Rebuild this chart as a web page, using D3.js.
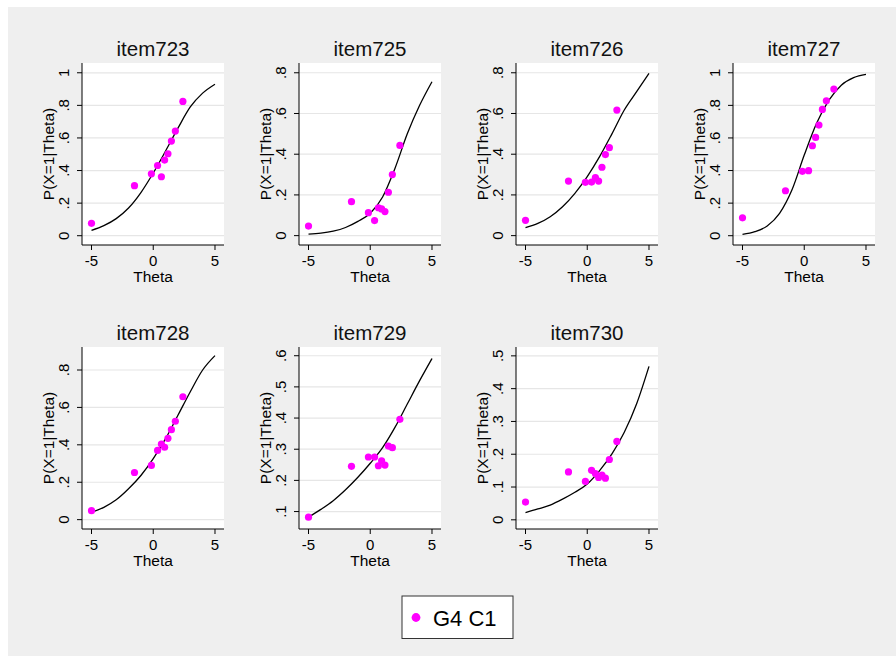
<!DOCTYPE html>
<html lang="en">
<head>
  <meta charset="UTF-8">
  <title>Item characteristic curves</title>
  <script src="https://d3js.org/d3.v7.min.js"></script>
  <style>
    body { margin: 0; background: #fff; }
    svg { display: block; font-family: "Liberation Sans", Arial, sans-serif; }
    .grid { stroke: #e6e6e6; stroke-width: 1.2px; }
    .axis-line { stroke: #000; stroke-width: 1px; }
    .tick-mark { stroke: #000; stroke-width: 1px; }
    .tick-label { font-size: 15px; fill: #000; }
    .axis-title { font-size: 15.5px; fill: #000; }
    .panel-title { font-size: 20.5px; fill: #111; }
    .fit { fill: none; stroke: #000; stroke-width: 1.3px; }
    .obs { fill: #ff00ff; }
  </style>
</head>
<body>

<svg width="896" height="656"></svg>

<script>
  // Chart data
  const items = ["item723", "item725", "item726", "item727", "item728", "item729", "item730"];

  // theta values of the observed points (same in every panel)
  const thetaObs = [-5, -1.52, -0.15, 0.35, 0.66, 0.92, 1.19, 1.47, 1.79, 2.4];
  // theta grid for the fitted curves
  const thetaFit = [-5, -4, -3, -2, -1, 0, 1, 2, 3, 4, 5];

  const obs723 = [0.076, 0.307, 0.380, 0.431, 0.362, 0.464, 0.503, 0.581, 0.642, 0.824];
  const obs725 = [0.047, 0.167, 0.113, 0.074, 0.137, 0.131, 0.118, 0.213, 0.300, 0.443];
  const obs726 = [0.075, 0.268, 0.262, 0.263, 0.285, 0.268, 0.336, 0.398, 0.432, 0.617];
  const obs727 = [0.110, 0.276, 0.395, 0.399, 0.552, 0.603, 0.679, 0.775, 0.828, 0.900];
  const obs728 = [0.048, 0.252, 0.290, 0.370, 0.404, 0.387, 0.435, 0.481, 0.526, 0.657];
  const obs729 = [0.082, 0.245, 0.275, 0.275, 0.247, 0.263, 0.249, 0.310, 0.305, 0.396];
  const obs730 = [0.054, 0.146, 0.117, 0.151, 0.141, 0.129, 0.136, 0.127, 0.184, 0.239];

  const fit723 = [0.033, 0.062, 0.105, 0.170, 0.265, 0.385, 0.520, 0.660, 0.790, 0.875, 0.930];
  const fit725 = [0.007, 0.012, 0.022, 0.040, 0.070, 0.110, 0.190, 0.330, 0.500, 0.640, 0.756];
  const fit726 = [0.039, 0.060, 0.093, 0.142, 0.208, 0.290, 0.388, 0.500, 0.617, 0.707, 0.797];
  const fit727 = [0.008, 0.025, 0.060, 0.137, 0.280, 0.495, 0.690, 0.832, 0.924, 0.970, 0.990];
  const fit728 = [0.039, 0.066, 0.106, 0.165, 0.236, 0.326, 0.433, 0.558, 0.684, 0.800, 0.877];
  const fit729 = [0.082, 0.107, 0.135, 0.170, 0.210, 0.255, 0.305, 0.370, 0.445, 0.520, 0.591];
  const fit730 = [0.022, 0.033, 0.045, 0.063, 0.084, 0.109, 0.150, 0.201, 0.267, 0.354, 0.468];

  const obsSeries = [obs723, obs725, obs726, obs727, obs728, obs729, obs730];
  const fitSeries = [fit723, fit725, fit726, fit727, fit728, fit729, fit730];

  // y axis ticks and visible range per panel
  const yTicks = [
    [0, 0.2, 0.4, 0.6, 0.8, 1],
    [0, 0.2, 0.4, 0.6, 0.8],
    [0, 0.2, 0.4, 0.6, 0.8],
    [0, 0.2, 0.4, 0.6, 0.8, 1],
    [0, 0.2, 0.4, 0.6, 0.8],
    [0.1, 0.2, 0.3, 0.4, 0.5, 0.6],
    [0, 0.1, 0.2, 0.3, 0.4, 0.5]
  ];
  const yRanges = [
    [-0.057, 1.06],
    [-0.046, 0.848],
    [-0.046, 0.848],
    [-0.057, 1.06],
    [-0.050, 0.923],
    [0.044, 0.628],
    [-0.028, 0.527]
  ];
  const xTicks = [-5, 0, 5];
  const legendLabel = "G4 C1";

  const svg = d3.select("svg");

  // graph region
  svg.append("rect")
    .attr("x", 8).attr("y", 7)
    .attr("width", 888).attr("height", 649)
    .attr("fill", "#efefef");

  const plotW = 142, plotH = 182;
  const colStep = 217, rowStep = 284;
  const x0 = 82, y0 = 63;

  const fmtY = d => d3.format("~g")(d).replace(/^0\./, ".");

  items.forEach((name, i) => {
    const col = i % 4, row = Math.floor(i / 4);
    const left = x0 + col * colStep;
    const top = y0 + row * rowStep;

    const g = svg.append("g").attr("transform", `translate(${left},${top})`);

    const x = d3.scaleLinear().domain([-5.77, 5.73]).range([0, plotW]);
    const y = d3.scaleLinear().domain(yRanges[i]).range([plotH, 0]);

    // plot region
    g.append("rect")
      .attr("width", plotW).attr("height", plotH)
      .attr("fill", "#fff");

    // grid lines
    g.selectAll(".grid")
      .data(yTicks[i])
      .enter().append("line")
      .attr("class", "grid")
      .attr("x1", 0).attr("x2", plotW)
      .attr("y1", d => y(d)).attr("y2", d => y(d));

    // axis lines
    g.append("line").attr("class", "axis-line")
      .attr("x1", 0).attr("x2", 0).attr("y1", 0).attr("y2", plotH);
    g.append("line").attr("class", "axis-line")
      .attr("x1", 0).attr("x2", plotW).attr("y1", plotH).attr("y2", plotH);

    // y ticks
    g.selectAll(".ytick")
      .data(yTicks[i])
      .enter().append("line")
      .attr("class", "tick-mark")
      .attr("x1", -5).attr("x2", 0)
      .attr("y1", d => y(d)).attr("y2", d => y(d));

    g.selectAll(".ylab")
      .data(yTicks[i])
      .enter().append("text")
      .attr("class", "tick-label")
      .attr("text-anchor", "middle")
      .attr("transform", d => `translate(-13,${y(d)}) rotate(-90)`)
      .text(fmtY);

    // x ticks
    g.selectAll(".xtick")
      .data(xTicks)
      .enter().append("line")
      .attr("class", "tick-mark")
      .attr("x1", d => x(d)).attr("x2", d => x(d))
      .attr("y1", plotH).attr("y2", plotH + 5);

    g.selectAll(".xlab")
      .data(xTicks)
      .enter().append("text")
      .attr("class", "tick-label")
      .attr("text-anchor", "middle")
      .attr("x", d => x(d))
      .attr("y", plotH + 21)
      .text(d => String(d));

    // axis titles
    g.append("text")
      .attr("class", "axis-title")
      .attr("text-anchor", "middle")
      .attr("x", plotW / 2)
      .attr("y", plotH + 36.5)
      .text("Theta");

    g.append("text")
      .attr("class", "axis-title")
      .attr("text-anchor", "middle")
      .attr("transform", `translate(-28,${plotH / 2}) rotate(-90)`)
      .text("P(X=1|Theta)");

    // panel title
    g.append("text")
      .attr("class", "panel-title")
      .attr("text-anchor", "middle")
      .attr("x", plotW / 2)
      .attr("y", -7.5)
      .text(name);

    // fitted curve
    const line = d3.line()
      .x((d, k) => x(thetaFit[k]))
      .y(d => y(d))
      .curve(d3.curveMonotoneX);

    g.append("path")
      .datum(fitSeries[i])
      .attr("class", "fit")
      .attr("d", line);

    // observed points
    g.selectAll(".obs")
      .data(obsSeries[i])
      .enter().append("circle")
      .attr("class", "obs")
      .attr("cx", (d, k) => x(thetaObs[k]))
      .attr("cy", d => y(d))
      .attr("r", 3.6);
  });

  // legend
  const legend = svg.append("g").attr("transform", "translate(402,596)");
  legend.append("rect")
    .attr("width", 111).attr("height", 42.5)
    .attr("fill", "#fff")
    .attr("stroke", "#333")
    .attr("stroke-width", 1);
  legend.append("circle")
    .attr("cx", 14).attr("cy", 21.5).attr("r", 4.4)
    .attr("fill", "#ff00ff");
  legend.append("text")
    .attr("x", 31).attr("y", 30)
    .attr("font-size", "22px")
    .attr("fill", "#000")
    .text(legendLabel);
</script>

</body>
</html>
